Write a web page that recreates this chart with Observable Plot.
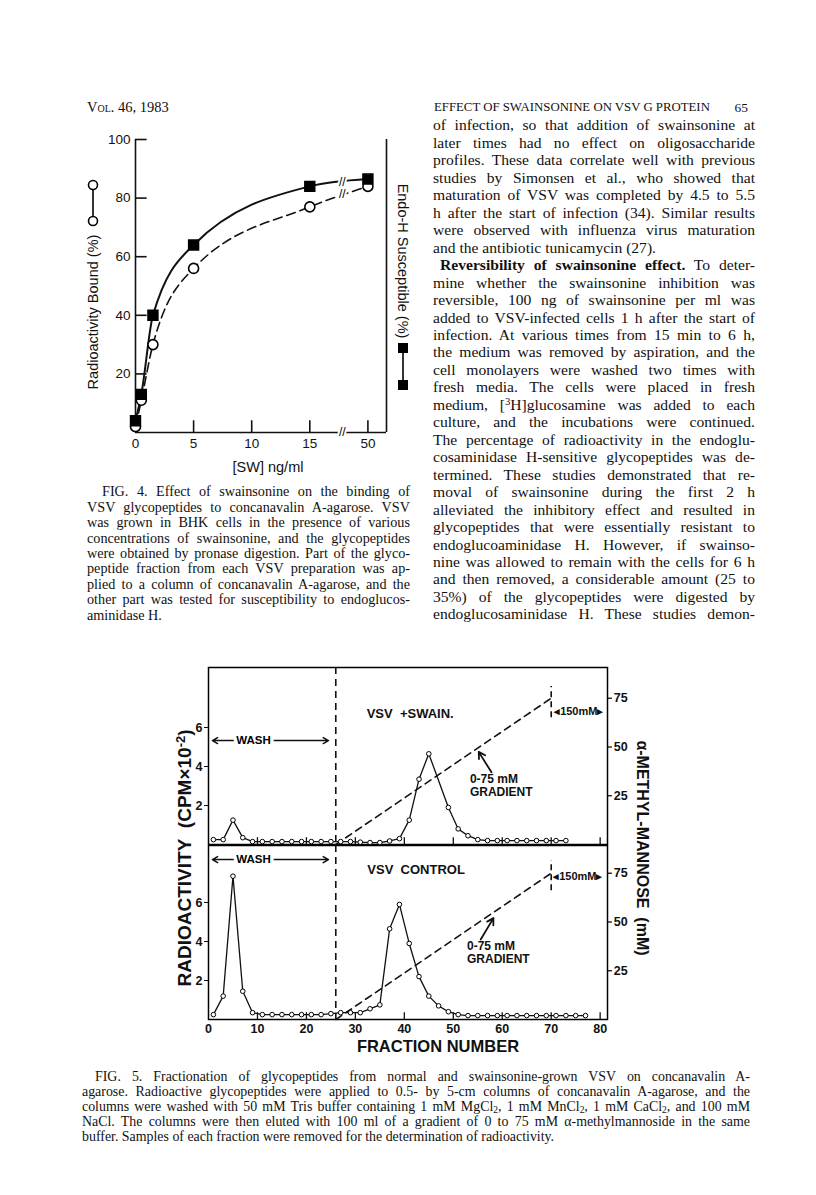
<!DOCTYPE html>
<html><head><meta charset="utf-8">
<script src="https://cdn.jsdelivr.net/npm/d3@7"></script>
<script src="https://cdn.jsdelivr.net/npm/@observablehq/plot@0.6"></script>
<style>
body{margin:0;background:#fff;}
#page{position:relative;width:816px;height:1195px;overflow:hidden;background:#fff;color:#111;}
.t{position:absolute;white-space:nowrap;line-height:1;}
.serif{font-family:"Liberation Serif","Times New Roman",serif;}
.sans{font-family:"Liberation Sans",Arial,sans-serif;}
sub,sup{font-size:68%;line-height:0;}
sub{vertical-align:-0.25em;} sup{vertical-align:0.45em;}
svg.abs{position:absolute;overflow:visible;}
</style></head><body><div id="page"></div>
<script>
// ================= DATA =================
// Figure 4
const swConc   = [0, 0.5, 1.5, 5, 15, 50];          // [SW] ng/ml
const boundPct = [2, 11, 30, 56, 77, 84];           // Radioactivity bound (%) (open circles)
const endoHPct = [4, 13, 40, 64, 84, 86.5];         // Endo-H susceptible (%) (filled squares)
const fig4XTicks = [0, 5, 10, 15, 50];
const fig4YTicks = [20, 40, 60, 80, 100];

// Figure 5
const swainFraction = [1,3,5,7,9,11,13,15,17,19,21,23,25,27,29,31,33,35,37,39,41,43,45,49,51,53,55,57,59,61,63,65,67,69,71,73];
const swainCPM      = [0.25,0.25,1.25,0.35,0.15,0.15,0.15,0.15,0.15,0.15,0.15,0.15,0.15,0.15,0.15,0.12,0.1,0.1,0.18,0.3,1.25,3.35,4.65,1.9,0.8,0.45,0.25,0.2,0.2,0.2,0.2,0.2,0.2,0.2,0.2,0.2];
const controlFraction = [1,3,5,7,9,11,13,15,17,19,21,23,25,27,29,31,33,35,37,39,41,43,45,47,49,51,53,55,57,59,61,63,65,67,69,71,73,75,77];
const controlCPM      = [0.25,1.2,7.35,1.45,0.35,0.25,0.25,0.25,0.25,0.25,0.25,0.25,0.3,0.35,0.35,0.35,0.55,0.75,4.65,5.9,3.9,2.2,1.2,0.7,0.4,0.25,0.2,0.2,0.2,0.2,0.2,0.2,0.2,0.2,0.2,0.2,0.2,0.2,0.2];
const gradientFraction = [26, 70];
const gradientMM       = [0, 75];
const washEndFraction  = 26;
const fracTicks = [0, 10, 20, 30, 40, 50, 60, 70, 80];
const cpmTicks  = [2, 4, 6];
const mmTicks   = [25, 50, 75];

// Text
const headerLeft = "Vol. 46, 1983";
const headerRight = "EFFECT OF SWAINSONINE ON VSV G PROTEIN";
const pageNumber = "65";
const bodyLines = [
 ["of infection, so that addition of swainsonine at",1,0],
 ["later times had no effect on oligosaccharide",1,0],
 ["profiles. These data correlate well with previous",1,0],
 ["studies by Simonsen et al., who showed that",1,0],
 ["maturation of VSV was completed by 4.5 to 5.5",1,0],
 ["h after the start of infection (34). Similar results",1,0],
 ["were observed with influenza virus maturation",1,0],
 ["and the antibiotic tunicamycin (27).",0,0],
 ["<b>Reversibility of swainsonine effect.</b> To deter-",1,1],
 ["mine whether the swainsonine inhibition was",1,0],
 ["reversible, 100 ng of swainsonine per ml was",1,0],
 ["added to VSV-infected cells 1 h after the start of",1,0],
 ["infection. At various times from 15 min to 6 h,",1,0],
 ["the medium was removed by aspiration, and the",1,0],
 ["cell monolayers were washed two times with",1,0],
 ["fresh media. The cells were placed in fresh",1,0],
 ["medium, [<sup>3</sup>H]glucosamine was added to each",1,0],
 ["culture, and the incubations were continued.",1,0],
 ["The percentage of radioactivity in the endoglu-",1,0],
 ["cosaminidase H-sensitive glycopeptides was de-",1,0],
 ["termined. These studies demonstrated that re-",1,0],
 ["moval of swainsonine during the first 2 h",1,0],
 ["alleviated the inhibitory effect and resulted in",1,0],
 ["glycopeptides that were essentially resistant to",1,0],
 ["endoglucoaminidase H. However, if swainso-",1,0],
 ["nine was allowed to remain with the cells for 6 h",1,0],
 ["and then removed, a considerable amount (25 to",1,0],
 ["35%) of the glycopeptides were digested by",1,0],
 ["endoglucosaminidase H. These studies demon-",1,0]
];
const fig4Caption = [
 ["FIG. 4. Effect of swainsonine on the binding of",1,1],
 ["VSV glycopeptides to concanavalin A-agarose. VSV",1,0],
 ["was grown in BHK cells in the presence of various",1,0],
 ["concentrations of swainsonine, and the glycopeptides",1,0],
 ["were obtained by pronase digestion. Part of the glyco-",1,0],
 ["peptide fraction from each VSV preparation was ap-",1,0],
 ["plied to a column of concanavalin A-agarose, and the",1,0],
 ["other part was tested for susceptibility to endoglucos-",1,0],
 ["aminidase H.",0,0]
];
const fig5Caption = [
 ["FIG. 5. Fractionation of glycopeptides from normal and swainsonine-grown VSV on concanavalin A-",1,1],
 ["agarose. Radioactive glycopeptides were applied to 0.5- by 5-cm columns of concanavalin A-agarose, and the",1,0],
 ["columns were washed with 50 mM Tris buffer containing 1 mM MgCl<sub>2</sub>, 1 mM MnCl<sub>2</sub>, 1 mM CaCl<sub>2</sub>, and 100 mM",1,0],
 ["NaCl. The columns were then eluted with 100 ml of a gradient of 0 to 75 mM α-methylmannoside in the same",1,0],
 ["buffer. Samples of each fraction were removed for the determination of radioactivity.",0,0]
];

// Annotation placement (data units of each panel)
const swainNotes   = {title:"VSV  +SWAIN.", titleX:41.2, titleY:6.7, washY:5.33, gradX:53.4, gradY:3.03, px1:57.8, py1:3.7, px2:55.2, py2:4.75, markY1:6.5, markY2:8.1, mmX:70.6, mmY:6.8};
const controlNotes = {title:"VSV  CONTROL", titleX:42.4, titleY:7.7, washY:8.2, gradX:52.8, gradY:3.46, px1:55.6, py1:4.1, px2:58.2, py2:5.2, markY1:6.6, markY2:8.15, mmX:70.4, mmY:7.33};

// ================= HELPERS =================
const page = document.getElementById("page");
function put(el, x, y){ el.style.position="absolute"; el.style.left=x+"px"; el.style.top=y+"px"; page.appendChild(el); return el; }
function line(html, x, y, w, size, cls, justify, weight){
  const el = document.createElement("div");
  el.className = "t " + cls; el.innerHTML = html;
  el.style.fontSize = size + "px";
  if (weight) el.style.fontWeight = weight;
  put(el, x, y - 0.61*size);
  if (justify){
    const nat = el.getBoundingClientRect().width;
    const spaces = (el.textContent.match(/ /g) || []).length;
    if (nat > w) el.style.letterSpacing = ((w - nat) / el.textContent.length) + "px";
    else if (spaces) el.style.wordSpacing = ((w - nat) / spaces) + "px";
  }
  return el;
}
function label(html, cx, cy, size, cls, weight, rot){
  const el = document.createElement("div");
  el.className = "t " + cls; el.innerHTML = html;
  el.style.fontSize = size + "px"; el.style.fontWeight = weight || "normal";
  el.style.transform = "translate(-50%,-50%)" + (rot ? " rotate(" + rot + "deg)" : "");
  put(el, cx, cy);
  return el;
}
function block(lines, x0, indentX, y0, dy, w, size){
  lines.forEach(([html, just, ind], i) => {
    const x = ind ? indentX : x0;
    line(html, x, y0 + i*dy, w - (x - x0), size, "serif", just);
  });
}

// ================= FIGURE 4 =================
const brk = v => v > 17 ? v - 30 : v;      // axis break: 50 ng/ml drawn right after the break
const f4 = swConc.map((c, i) => ({pos: brk(c), bound: boundPct[i], endo: endoHPct[i]}));
const f4TickPos = fig4XTicks.map(brk);
const breakMarks = [{x: 17.8, y: 0}, {x: 17.8, y: 85.3}, {x: 17.8, y: 81.3}];
const sans = '"Liberation Sans", Arial, sans-serif';

const fig4 = Plot.plot({
  width: 360, height: 400, marginLeft: 75, marginRight: 34, marginTop: 39, marginBottom: 68,
  style: {background: "transparent", overflow: "visible", fontFamily: sans, fontSize: "13.5px", color: "#111"},
  x: {domain: [0, 21.6], ticks: f4TickPos, tickFormat: d => fig4XTicks[f4TickPos.indexOf(d)], tickSize: 0, tickPadding: 6, label: null},
  y: {domain: [0, 100], ticks: fig4YTicks, tickSize: 0, tickPadding: 5, label: null},
  marks: [
    Plot.ruleX([0, 21.6], {y1: 0, y2: 100, strokeWidth: 1.6}),
    Plot.ruleY([0], {x1: 0, x2: 17.55, strokeWidth: 1.6}),
    Plot.ruleY([0], {x1: 18.05, x2: 21.6, strokeWidth: 1.6}),
    Plot.ruleX(f4TickPos.slice(1), {y1: 0, y2: 4, strokeWidth: 1.6}),
    Plot.ruleY(fig4YTicks, {x1: 0, x2: 1, strokeWidth: 1.6}),
    Plot.line(f4, {x: "pos", y: "bound", curve: "monotone-x", strokeDasharray: "9,5", strokeWidth: 1.6}),
    Plot.line(f4, {x: "pos", y: "endo", curve: "monotone-x", strokeWidth: 2}),
    Plot.text(breakMarks, {x: "x", y: "y", text: () => "//", fontSize: 12, fill: "black", stroke: "white", strokeWidth: 4}),
    Plot.dot(f4, {x: "pos", y: "bound", r: 5, fill: "white", stroke: "black", strokeWidth: 1.6}),
    Plot.dot(f4, {x: "pos", y: "endo", r: 5.6, symbol: "square", fill: "black", stroke: "black"})
  ]
});
fig4.style.position = "absolute"; fig4.style.left = "60px"; fig4.style.top = "100px";
page.appendChild(fig4);

// ================= FIGURE 5 =================
const bold = {background: "transparent", overflow: "visible", fontFamily: sans, fontSize: "12.5px", fontWeight: "bold", color: "#111"};
const grad = gradientFraction.map((f, i) => ({f, v: gradientMM[i] / 10}));

function panel(frac, cpm, yMax, height, mt, mb, showX, n){
  const data = frac.map((f, i) => ({f, v: cpm[i]}));
  return Plot.plot({
    width: 500, height, marginLeft: 58, marginRight: 43, marginTop: mt, marginBottom: mb,
    style: bold,
    x: {domain: [0, 81.5], ticks: fracTicks, tickSize: 0, tickPadding: 5, label: null, axis: showX ? "bottom" : null},
    y: {domain: [0, yMax], ticks: cpmTicks, tickSize: 4, tickPadding: 2, label: null},
    marks: [
      Plot.frame({stroke: "black", strokeWidth: 1.5}),
      Plot.ruleX(fracTicks.slice(1), {y1: 0, y2: 0.35, strokeWidth: 1.3}),
      Plot.ruleY(mmTicks, {y: d => d / 10, x1: 81.5, x2: 82.5, strokeWidth: 1.3}),
      Plot.text(mmTicks, {y: d => d / 10, x: 82.8, text: d => String(d), textAnchor: "start"}),
      Plot.ruleX([washEndFraction], {strokeDasharray: "7,5", strokeWidth: 1.6}),
      Plot.line(grad, {x: "f", y: "v", strokeDasharray: "7,5", strokeWidth: 1.6}),
      Plot.ruleX([gradientFraction[1]], {y1: n.markY1, y2: n.markY2, strokeDasharray: "6,4", strokeWidth: 1.6}),
      Plot.text([n], {x: "mmX", y: "mmY", text: () => "◂150mM▸", textAnchor: "start", fontSize: 11}),
      Plot.line(data, {x: "f", y: "v", strokeWidth: 1.3}),
      Plot.dot(data, {x: "f", y: "v", r: 2.3, fill: "white", stroke: "black", strokeWidth: 1}),
      Plot.arrow([n], {x1: () => 9.2, y1: "washY", x2: () => 0.8, y2: "washY", headLength: 6, strokeWidth: 1.5, bend: false}),
      Plot.arrow([n], {x1: () => 9.2, y1: "washY", x2: () => 24.5, y2: "washY", headLength: 6, strokeWidth: 1.5, bend: false}),
      Plot.text([n], {x: () => 9.2, y: "washY", text: () => "WASH", fontSize: 11.5, fill: "black", stroke: "white", strokeWidth: 7}),
      Plot.text([n], {x: "titleX", y: "titleY", text: "title", fontSize: 13}),
      Plot.text([n], {x: "gradX", y: "gradY", text: () => "0-75 mM\nGRADIENT", textAnchor: "start", fontSize: 12, lineHeight: 1.1}),
      Plot.arrow([n], {x1: "px1", y1: "py1", x2: "px2", y2: "py2", headLength: 6, strokeWidth: 1.8, bend: false})
    ]
  });
}
const top5 = panel(swainFraction, swainCPM, 177 / 19.5, 194, 17, 0, false, swainNotes);
top5.style.position = "absolute"; top5.style.left = "150px"; top5.style.top = "650px";
page.appendChild(top5);
const bot5 = panel(controlFraction, controlCPM, 174 / 19.5, 215, 0, 41, true, controlNotes);
bot5.style.position = "absolute"; bot5.style.left = "150px"; bot5.style.top = "845px";
page.appendChild(bot5);

// ================= TEXT =================
const hl = line(headerLeft, 87, 109, 0, 14.5, "serif", false); hl.style.fontVariant = "small-caps";
line(headerRight, 434, 109, 0, 12.8, "serif", false);
const pn = line(pageNumber, 0, 109, 0, 13.5, "serif", false); pn.style.left = (748 - pn.getBoundingClientRect().width) + "px";

block(bodyLines, 433, 440, 127, 17.46, 322, 15.6);
block(fig4Caption, 87, 102, 493, 15.4, 323, 14.2);
block(fig5Caption, 82, 95, 1078, 15, 668, 13.9);

// Figure 4 labels and legend keys
label("Radioactivity Bound (%)", 93, 312, 14.5, "sans", "normal", -90);
label("Endo-H Susceptible (%)", 403, 261, 14.5, "sans", "normal", 90);
label("[SW] ng/ml", 268, 467, 14.5, "sans");
const ns = "http://www.w3.org/2000/svg";
function keySvg(x, y, h, filled){
  const s = document.createElementNS(ns, "svg");
  s.setAttribute("class", "abs"); s.setAttribute("width", 14); s.setAttribute("height", h);
  s.style.left = x + "px"; s.style.top = y + "px";
  const l = document.createElementNS(ns, "line");
  l.setAttribute("x1", 7); l.setAttribute("x2", 7); l.setAttribute("y1", 6); l.setAttribute("y2", h - 6);
  l.setAttribute("stroke", "black"); l.setAttribute("stroke-width", 1.6); s.appendChild(l);
  [6, h - 6].forEach(cy => {
    const m = document.createElementNS(ns, filled ? "rect" : "circle");
    if (filled){ m.setAttribute("x", 2); m.setAttribute("y", cy - 5); m.setAttribute("width", 10); m.setAttribute("height", 10); m.setAttribute("fill", "black"); }
    else { m.setAttribute("cx", 7); m.setAttribute("cy", cy); m.setAttribute("r", 4.5); m.setAttribute("fill", "white"); m.setAttribute("stroke", "black"); m.setAttribute("stroke-width", 1.6); }
    s.appendChild(m);
  });
  page.appendChild(s);
}
keySvg(86, 179, 48, false);
keySvg(396, 342, 49, true);

// Figure 5 axis titles
label("RADIOACTIVITY&nbsp;&nbsp;(CPM×10<sup>-2</sup>)", 184, 858, 19, "sans", "bold", -90);
label("α-METHYL-MANNOSE&nbsp;&nbsp;(mM)", 642, 848, 16, "sans", "bold", 90);
label("FRACTION NUMBER", 438, 1046, 16.5, "sans", "bold");
</script>
</body></html>
